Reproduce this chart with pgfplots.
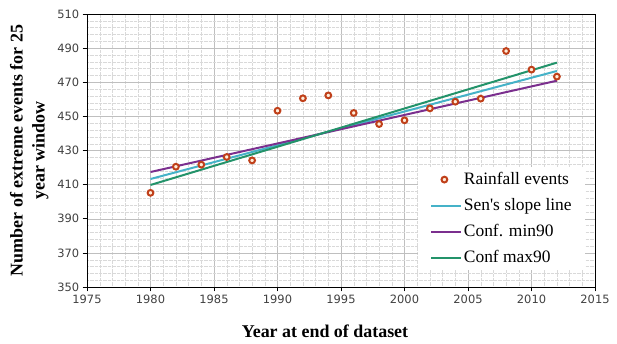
\documentclass[border=0pt]{standalone}
\usepackage{fontspec}
\setmainfont{Liberation Serif}[Ligatures=TeXOff]
\newfontfamily\tickfont{DejaVu Sans}
\usepackage{pgfplots}
\pgfplotsset{compat=1.18}
\definecolor{senc}{HTML}{45B2C8}
\definecolor{minc}{HTML}{7B2F8E}
\definecolor{maxc}{HTML}{23936A}
\definecolor{ptc}{HTML}{C0401A}
\definecolor{tickc}{HTML}{404040}
\pgfplotsset{
  lineleg/.style={legend image code/.code={\draw[##1] (0bp,0bp) -- (30bp,0bp);}},
  markleg/.style={legend image code/.code={\draw[##1, only marks] plot coordinates {(13bp,0bp)};}}}
\begin{document}
\begin{tikzpicture}[x=1bp,y=1bp]
\path[use as bounding box] (-87,-56) rectangle (530,287);
\begin{axis}[
  scale only axis, width=508bp, height=273bp,
  at={(0,0)}, anchor=south west,
  xmin=1975, xmax=2015, ymin=350, ymax=510,
  xtick={1975,1980,...,2015}, ytick={350,370,...,510},
  minor x tick num=4, minor y tick num=4,
  grid=both,
  major grid style={gray!50, line width=0.4pt},
  minor grid style={gray!30, line width=0.3pt, densely dotted},
  axis line style={black, line width=0.8pt},
  tick style={black, line width=0.6pt},
  tick align=outside, minor tick length=0pt,
  xtick pos=bottom, ytick pos=left,
  /pgf/number format/1000 sep={},
  /pgf/number format/assume math mode=true,
  ticklabel style={font=\tickfont\fontsize{11.5}{13}\selectfont, text=tickc},
  xlabel={\textbf{Year at end of dataset}},
  ylabel={\textbf{Number of extreme events for 25}\\\textbf{year window}},
  ylabel style={align=center, font=\fontsize{18}{22}\selectfont, at={(rel axis cs:0,0.5)}, anchor=south, yshift=35bp},
  xlabel style={font=\fontsize{18}{20}\selectfont, at={(rel axis cs:0.5,0)}, anchor=north, yshift=-34bp, xshift=-16bp},
  legend style={at={(rel axis cs:0.652,0.44)}, anchor=north west, draw=none, fill=white,
    font=\fontsize{17.5}{20}\selectfont, row sep=11bp, inner xsep=12bp, inner ysep=5bp,
    nodes={inner xsep=1.5bp, inner ysep=0bp, text height=12bp, text depth=3bp}},
  legend cell align=left,
]
\addplot[only marks, mark=*, mark size=2.9pt, line width=2pt, mark options={draw=ptc, fill=orange!15}, markleg]
coordinates {
(1980,405.2) (1982,420.5) (1984,421.7) (1986,426.2) (1988,424.2)
(1990,453.3) (1992,460.6) (1994,462.3) (1996,452.0) (1998,445.5)
(2000,447.7) (2002,454.7) (2004,458.6) (2006,460.4) (2008,488.3)
(2010,477.4) (2012,473.3)};
\addlegendentry{Rainfall events}
\addplot[senc, line width=2pt, lineleg] coordinates {(1980,413.3) (2012,476.6)};
\addlegendentry{Sen's slope line}
\addplot[minc, line width=2pt, lineleg] coordinates {(1980,417.4) (2012,470.9)};
\addlegendentry{Conf. min90}
\addplot[maxc, line width=2pt, lineleg] coordinates {(1980,409.8) (2012,481.5)};
\addlegendentry{Conf max90}
\end{axis}
\end{tikzpicture}
\end{document}
